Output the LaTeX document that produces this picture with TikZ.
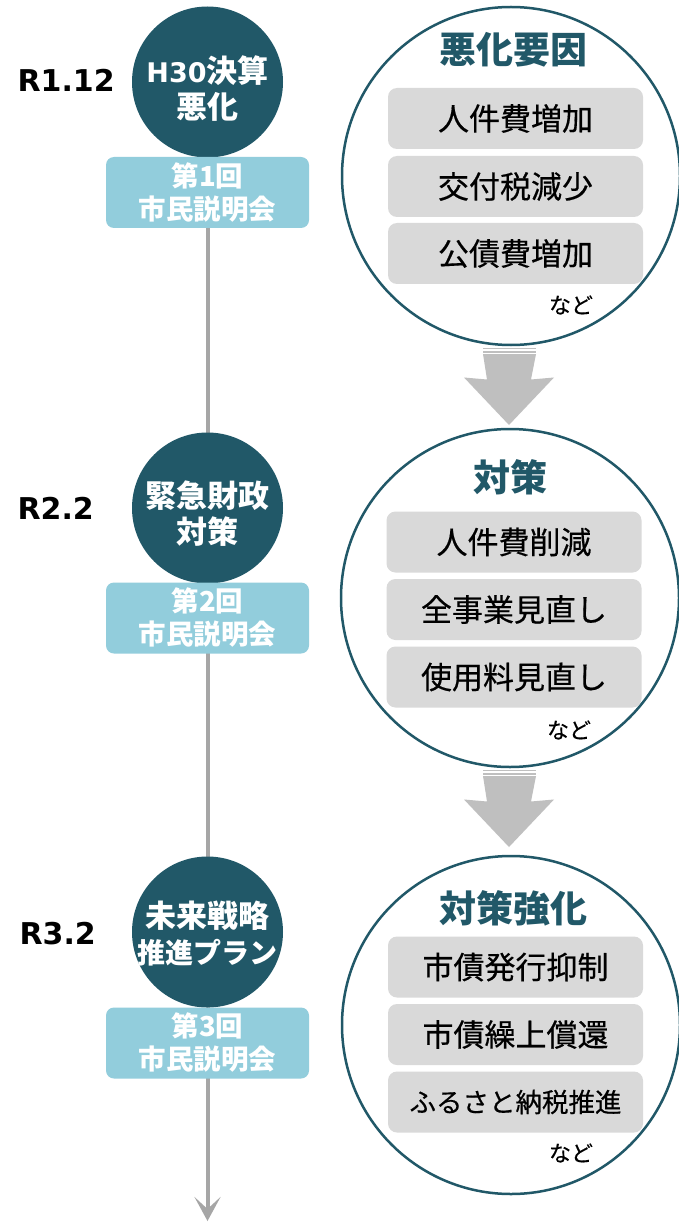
\documentclass[tikz,border=0pt]{standalone}
\usepackage{fontspec}
\setmainfont{DejaVu Sans}
\newfontfamily\jp{Noto Sans CJK JP}
\newfontfamily\jpm[FakeBold=0.4]{Noto Sans CJK JP}
\usetikzlibrary{arrows.meta}
\definecolor{dark}{HTML}{215868}
\definecolor{lblue}{HTML}{92CDDC}
\definecolor{gbox}{HTML}{D9D9D9}
\definecolor{garrow}{HTML}{BFBFBF}
\definecolor{tline}{HTML}{A6A6A6}
\pgfdeclarelayer{background}
\pgfsetlayers{background,main}
\newcommand\lt[1]{{\rmfamily\bfseries\fontsize{27}{36}\selectfont #1}}
\begin{document}
\begin{tikzpicture}[x=1pt,y=-1pt,
  dcirc/.style={circle, fill=dark, minimum size=151pt, inner sep=0pt},
  dtext/.style={text=white, align=center, font={\jp\bfseries\fontsize{31}{36}\selectfont}},
  mbox/.style={rectangle, rounded corners=8pt, fill=lblue, minimum width=203pt, minimum height=71pt, inner sep=0pt,
    text=white, align=center, font={\jp\bfseries\fontsize{27.5}{33}\selectfont}},
  rcirc/.style={circle, draw=dark, line width=2.5pt, minimum size=338pt, inner sep=0pt},
  gitem/.style={rectangle, rounded corners=9pt, fill=gbox, minimum width=255pt, minimum height=61pt, inner sep=0pt,
    font={\jpm\fontsize{31}{36}\selectfont}},
  ttl/.style={text=dark, font={\jp\bfseries\fontsize{37}{42}\selectfont}},
  nado/.style={font={\jpm\fontsize{22}{26}\selectfont}},
  rlabel/.style={anchor=west, font={\bfseries\fontsize{30}{34}\selectfont}}
]
\useasboundingbox (0,0) rectangle (679,1222);

% left timeline
\node[rlabel] (r1) at (14,80) {R1.12};
\node[rlabel] (r2) at (14,508) {R2.2};
\node[rlabel] (r3) at (16,934) {R3.2};

\node[dcirc] (c1) at (207.5,82) {};
\node[dtext] (t1) at ([yshift=-7pt]c1.center) {\lt{H30}決算\\悪化};
\node[mbox] (m1) at (207.5,192.5) {第1回\\市民説明会};

\node[dcirc] (c2) at (207.5,508) {};
\node[dtext] (t2) at ([yshift=-6pt]c2.center) {緊急財政\\対策};
\node[mbox] (m2) at (207.5,618) {第2回\\市民説明会};

\node[dcirc] (c3) at (207.5,932) {};
\node[dtext] (t3) at ([yshift=-2pt]c3.center) {未来戦略\\{\fontsize{28}{36}\selectfont 推進プラン}};
\node[mbox] (m3) at (207.5,1043) {第3回\\市民説明会};

\coordinate (tend) at (207.5,1221);

% right circles
\node[rcirc] (k1) at (511,176) {};
\node[ttl] (h1) at (513,50) {悪化要因};
\node[gitem] (a1) at (515.5,118.5) {人件費増加};
\node[gitem] (a2) at (515.5,186.5) {交付税減少};
\node[gitem] (a3) at (515.5,253.5) {公債費増加};
\node[nado] (n1) at (571,305) {など};

\node[rcirc] (k2) at (510,598) {};
\node[ttl] (h2) at (510,477) {対策};
\node[gitem] (b1) at (514,542) {人件費削減};
\node[gitem] (b2) at (514,609.5) {全事業見直し};
\node[gitem] (b3) at (514,677) {使用料見直し};
\node[nado] (n2) at (569,730) {など};

\node[rcirc] (k3) at (511,1025) {};
\node[ttl] (h3) at (513,908) {対策強化};
\node[gitem] (d1) at (515.5,967) {市債発行抑制};
\node[gitem] (d2) at (515.5,1034.5) {市債繰上償還};
\node[gitem, font={\jpm\fontsize{26.5}{32}\selectfont}] (d3) at (515.5,1102) {ふるさと納税推進};
\node[nado] (n3) at (571,1153) {など};

% big gray arrows
\foreach \d in {0,422}{
  \begin{scope}[shift={(0,\d)}]
    \fill[garrow] (483,347.5) rectangle (536,349);
    \fill[garrow] (483,350.5) rectangle (536,352.5);
    \fill[garrow] (483,354) -- (536,354) -- (531,379.5) -- (554,377.5) -- (509,425)
      -- (464,377.5) -- (487,379.5) -- cycle;
  \end{scope}
}

\begin{pgfonlayer}{background}
  \fill[white] (0,0) rectangle (679,1222);
  \draw[tline, line width=4pt, -{Stealth[length=24pt,width=26pt,inset=12pt]}] (m1.south) -- (tend);
\end{pgfonlayer}
\end{tikzpicture}
\end{document}
